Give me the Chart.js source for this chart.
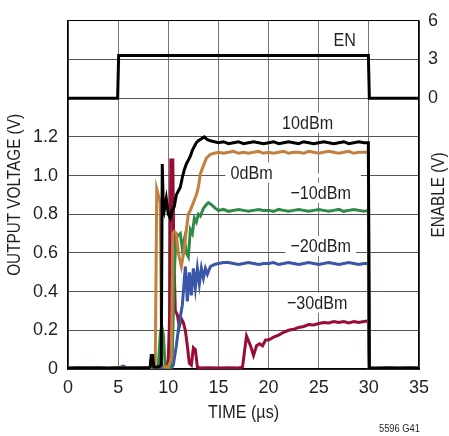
<!DOCTYPE html>
<html>
<head>
<meta charset="utf-8">
<script src="https://cdn.jsdelivr.net/npm/chart.js@4.4.1/dist/chart.umd.min.js"></script>
<style>
  html, body { margin: 0; padding: 0; background: #fff; }
  canvas { display: block; }
</style>
</head>
<body>
<canvas id="chart" width="449" height="436"></canvas>
<script>
// Enable pulse (right axis, V)
var tEN = [0, 4.95, 5.05, 29.95, 30.05, 35];
var vEN = [0, 0, 3.3, 3.3, 0, 0];

// shared time points for the settled part of every trace (us)
var tTail = [20, 20.5, 21, 21.5, 22, 22.5, 23, 23.5, 24, 24.5, 25, 25.5, 26, 26.5, 27, 27.5,
  28, 28.5, 29, 29.5, 29.95, 30.05, 31, 32, 33, 34, 35];

// 10dBm
var t10 = [0, 1, 2, 3, 4, 5, 6, 7, 8, 8.2, 8.3, 8.45, 8.55, 9.0, 9.3, 9.4, 9.5, 9.6, 9.8,
  10.0, 10.2, 10.4, 10.6, 10.8, 11.0, 11.2, 11.4, 11.6, 11.8, 12.0, 12.2, 12.4, 12.6, 12.8,
  13.0, 13.3, 13.6, 13.9, 14.2, 14.6, 15, 15.5, 16, 16.5, 17, 17.5, 18, 18.5, 19, 19.5];
var v10 = [0.004, 0.005, 0.004, 0.005, 0.004, 0.005, 0.004, 0.005, 0.005, 0.01, 0.07, 0.07, 0.01,
  0.01, 0.02, 1.06, 0.85, 0.82, 0.88, 0.80, 0.78, 0.82, 0.84, 0.90, 0.92, 0.94, 0.99, 1.03, 1.06,
  1.08, 1.10, 1.13, 1.15, 1.17, 1.18, 1.19, 1.20, 1.185, 1.18, 1.175,
  1.17, 1.175, 1.165, 1.17, 1.175, 1.165, 1.17, 1.175, 1.17, 1.165];
var v10Tail = [1.17, 1.175, 1.165, 1.17, 1.175, 1.17, 1.165, 1.175, 1.17, 1.165, 1.17, 1.175,
  1.17, 1.165, 1.17, 1.175, 1.165, 1.17, 1.175, 1.17, 1.17, 0.005, 0.004, 0.005, 0.004, 0.005, 0.004];

// 0dBm
var t0 = [0, 1, 2, 3, 4, 5, 6, 7, 8, 8.7, 8.85, 9.0, 9.2, 9.35, 9.7, 10.0, 10.3, 10.45, 10.6,
  10.8, 11.0, 11.3, 11.6, 11.8, 12.0, 12.2, 12.5, 12.8, 13.0, 13.2, 13.5, 13.8, 14.2, 14.6,
  15, 15.5, 16, 16.5, 17, 17.5, 18, 18.5, 19, 19.5];
var v0 = [0.004, 0.005, 0.004, 0.005, 0.004, 0.005, 0.004, 0.005, 0.005, 0.01, 0.93, 0.90, 0.86,
  0.02, 0.01, 0.01, 0.05, 0.70, 0.71, 0.70, 0.60, 0.53, 0.62, 0.72, 0.80, 0.82, 0.86, 0.90, 0.94,
  1.01, 1.05, 1.09, 1.11, 1.115, 1.12, 1.115, 1.12, 1.125, 1.115, 1.12, 1.115, 1.12, 1.125, 1.115];
var v0Tail = [1.12, 1.115, 1.12, 1.125, 1.115, 1.12, 1.12, 1.115, 1.125, 1.12, 1.115, 1.12,
  1.125, 1.12, 1.115, 1.12, 1.125, 1.115, 1.12, 1.12, 1.12, 0.005, 0.004, 0.005, 0.004, 0.005, 0.004];

// -10dBm
var tM10 = [0, 1, 2, 3, 4, 5, 6, 7, 8, 8.2, 8.3, 8.45, 8.6, 9.0, 9.2, 9.35, 9.5, 9.7, 10.2, 10.4,
  10.6, 10.8, 11.0, 11.2, 11.4, 11.6, 11.8, 12.0, 12.2, 12.4, 12.6, 12.8, 13.0, 13.2, 13.5, 13.8,
  14.0, 14.3, 14.7, 15, 15.5, 16, 16.5, 17, 17.5, 18, 18.5, 19, 19.5];
var vM10 = [0.004, 0.005, 0.004, 0.005, 0.004, 0.005, 0.004, 0.006, 0.005, 0.01, 0.05, 0.05, 0.01,
  0.01, 0.18, 0.22, 0.18, 0.01, 0.01, 0.08, 0.50, 0.70, 0.69, 0.70, 0.62, 0.67, 0.60, 0.58, 0.72,
  0.70, 0.78, 0.76, 0.80, 0.79, 0.83, 0.85, 0.86, 0.85, 0.83,
  0.82, 0.825, 0.815, 0.82, 0.825, 0.82, 0.815, 0.82, 0.825, 0.82];
var vM10Tail = [0.82, 0.815, 0.825, 0.82, 0.815, 0.82, 0.825, 0.82, 0.815, 0.82, 0.825, 0.82,
  0.815, 0.82, 0.825, 0.815, 0.82, 0.825, 0.82, 0.815, 0.82, 0.005, 0.004, 0.005, 0.004, 0.005, 0.004];

// -20dBm
var tM20 = [0, 1, 2, 3, 4, 5, 5.5, 6, 7, 8, 9, 10, 10.3, 10.5, 10.8, 11.0, 11.2, 11.4, 11.7, 11.9,
  12.1, 12.3, 12.5, 12.7, 12.9, 13.1, 13.3, 13.5, 13.7, 13.9, 14.2, 14.6,
  15, 15.5, 16, 16.5, 17, 17.5, 18, 18.5, 19, 19.5];
var vM20 = [0.004, 0.005, 0.004, 0.005, 0.004, 0.005, 0.015, 0.005, 0.004, 0.005, 0.004, 0.005,
  0.005, 0.02, 0.12, 0.20, 0.27, 0.33, 0.53, 0.35, 0.50, 0.38, 0.52, 0.42, 0.52, 0.44, 0.52, 0.47,
  0.52, 0.49, 0.53, 0.54, 0.545, 0.55, 0.55, 0.545, 0.54, 0.545, 0.55, 0.545, 0.54, 0.545];
var vM20Tail = [0.545, 0.55, 0.54, 0.545, 0.55, 0.545, 0.54, 0.545, 0.55, 0.545, 0.54, 0.545,
  0.55, 0.545, 0.54, 0.545, 0.55, 0.545, 0.54, 0.545, 0.545, 0.005, 0.004, 0.005, 0.004, 0.005, 0.004];

// -30dBm
var tM30 = [0, 1, 2, 3, 4, 5, 6, 7, 8, 8.2, 8.3, 8.5, 8.7, 9.0, 9.5, 9.8, 10.0, 10.15, 10.25,
  10.45, 10.55, 10.7, 10.9, 11.1, 11.3, 11.5, 11.7, 11.9, 12.1, 12.3, 12.5, 12.7, 12.9, 13.2,
  14, 15, 16, 17, 17.4, 17.8, 18.2, 18.5, 18.8, 19.1, 19.4, 19.7];
var vM30 = [0.005, 0.004, 0.006, 0.005, 0.004, 0.005, 0.006, 0.005, 0.005, 0.01, 0.04, 0.03, 0.01,
  0.005, 0.005, 0.01, 0.05, 0.30, 1.08, 1.08, 0.60, 0.30, 0.28, 0.22, 0.26, 0.24, 0.20, 0.12,
  0.03, 0.02, 0.11, 0.10, 0.01, 0.005, 0.006, 0.005, 0.006, 0.005, 0.01, 0.17, 0.12, 0.07, 0.12,
  0.13, 0.12, 0.15];
var vM30Tail = [0.15, 0.165, 0.175, 0.19, 0.20, 0.205, 0.215, 0.22, 0.23, 0.228, 0.235, 0.24,
  0.238, 0.245, 0.24, 0.245, 0.238, 0.245, 0.24, 0.245, 0.248, 0.005, 0.004, 0.005, 0.004, 0.005, 0.004];

var FONT = "'Liberation Sans', Arial, sans-serif";
var INK = '#231f20';

function pts(t, v) {
  return t.map(function (x, i) { return { x: x, y: v[i] }; });
}

function trace(label, t, v, tail, color) {
  return {
    label: label,
    data: pts(t.concat(tTail), v.concat(tail)),
    borderColor: color,
    borderWidth: 3,
    pointRadius: 0,
    tension: 0,
    yAxisID: 'y'
  };
}

// condensed-looking text: squeeze horizontally
function narrow(ctx, text, x, y, size, rot) {
  ctx.save();
  ctx.translate(x, y);
  if (rot) ctx.rotate(rot);
  ctx.scale(0.85, 1);
  ctx.font = size + 'px ' + FONT;
  ctx.fillText(text, 0, 0);
  ctx.restore();
}

// curve labels sit on white patches that hide the grid behind them
var curveLabels = [
  { text: 'EN', x: 27.6, y: 1.70 },
  { text: '10dBm', x: 23.9, y: 1.273 },
  { text: '0dBm', x: 18.3, y: 1.016 },
  { text: '\u221210dBm', x: 25.2, y: 0.91 },
  { text: '\u221220dBm', x: 25.2, y: 0.636 },
  { text: '\u221230dBm', x: 24.85, y: 0.343 }
];

var labelPlugin = {
  id: 'labels',
  beforeDatasetsDraw: function (chart) {
    var ctx = chart.ctx, xs = chart.scales.x, ys = chart.scales.y;
    ctx.save();
    ctx.textAlign = 'center';
    ctx.textBaseline = 'middle';
    // gap in the 1.0 grid line right of the 0dBm label
    ctx.fillStyle = '#fff';
    ctx.fillRect(xs.getPixelForValue(20.4), ys.getPixelForValue(1.0) - 2,
      xs.getPixelForValue(29.2) - xs.getPixelForValue(20.4), 4);
    ctx.font = '19px ' + FONT;
    curveLabels.forEach(function (l) {
      var px = xs.getPixelForValue(l.x), py = ys.getPixelForValue(l.y);
      var w = ctx.measureText(l.text).width * 0.85;
      ctx.fillStyle = '#fff';
      ctx.fillRect(px - w / 2 - 5, py - 10, w + 10, 20);
      ctx.fillStyle = INK;
      narrow(ctx, l.text, px, py + 1, 19);
    });
    ctx.restore();
  },
  afterDraw: function (chart) {
    var ctx = chart.ctx, a = chart.chartArea;
    var midY = (a.top + a.bottom) / 2;
    ctx.save();
    ctx.fillStyle = INK;
    ctx.textAlign = 'center';
    ctx.textBaseline = 'middle';
    narrow(ctx, 'OUTPUT VOLTAGE (V)', 15, midY, 18, -Math.PI / 2);
    narrow(ctx, 'ENABLE (V)', 439, midY, 18, -Math.PI / 2);
    narrow(ctx, 'TIME (\u00b5s)', (a.left + a.right) / 2, 413, 19);
    ctx.textAlign = 'right';
    narrow(ctx, '5596 G41', 420, 429, 11);
    ctx.restore();
  }
};

new Chart(document.getElementById('chart'), {
  type: 'line',
  data: {
    datasets: [
      {
        label: 'EN',
        data: pts(tEN, vEN),
        borderColor: '#000',
        borderWidth: 3,
        pointRadius: 0,
        tension: 0,
        yAxisID: 'y2'
      },
      trace('10dBm', t10, v10, v10Tail, '#000000'),
      trace('0dBm', t0, v0, v0Tail, '#c27f3d'),
      trace('-10dBm', tM10, vM10, vM10Tail, '#2f8a48'),
      trace('-20dBm', tM20, vM20, vM20Tail, '#3a56a8'),
      trace('-30dBm', tM30, vM30, vM30Tail, '#990c33')
    ]
  },
  options: {
    responsive: false,
    devicePixelRatio: 1,
    animation: false,
    layout: { padding: { top: 18, left: 0, right: 0, bottom: 0 } },
    plugins: { legend: { display: false }, tooltip: { enabled: false } },
    scales: {
      x: {
        type: 'linear',
        min: 0,
        max: 35,
        afterFit: function (s) { s.height = 67; },
        ticks: { stepSize: 5, padding: 8, color: INK, font: { family: FONT, size: 18 } },
        grid: { color: '#777', lineWidth: 1, drawTicks: false },
        border: { color: '#000', width: 1.5 }
      },
      y: {
        position: 'left',
        min: 0,
        max: 1.8,
        afterFit: function (s) { s.width = 68; },
        ticks: {
          stepSize: 0.2,
          padding: 10,
          color: INK,
          font: { family: FONT, size: 18 },
          callback: function (v) {
            var r = Math.round(v * 10) / 10;
            if (r > 1.2001) return '';
            return r === 0 ? '0' : r.toFixed(1);
          }
        },
        grid: {
          drawTicks: false,
          lineWidth: 1,
          color: function (c) { return c.tick && c.tick.value > 1.79 ? '#000' : '#555'; }
        },
        border: { color: '#000', width: 1.5 }
      },
      y2: {
        position: 'right',
        min: -21,
        max: 6,
        afterFit: function (s) { s.width = 30; },
        ticks: {
          stepSize: 3,
          padding: 9,
          color: INK,
          font: { family: FONT, size: 18 },
          callback: function (v) { return v >= 0 ? String(v) : ''; }
        },
        grid: { display: false, drawTicks: false },
        border: { color: '#000', width: 1.5 }
      }
    }
  },
  plugins: [labelPlugin]
});
</script>
</body>
</html>
